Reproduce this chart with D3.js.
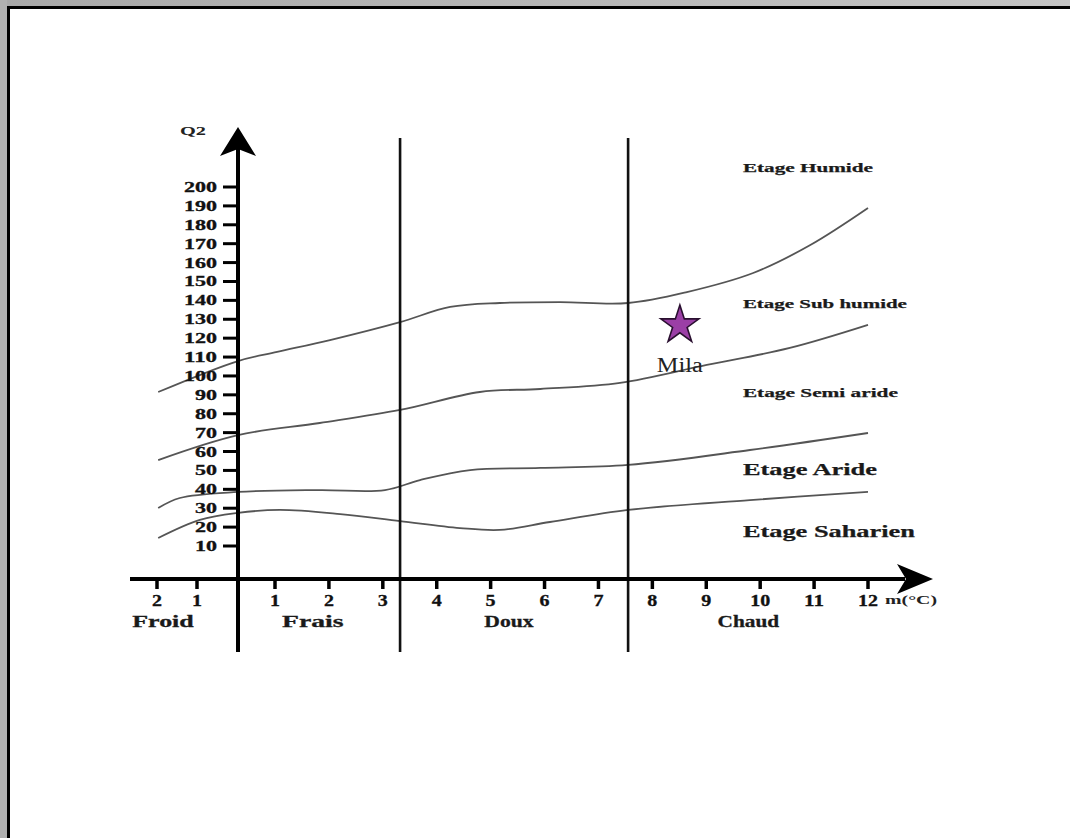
<!DOCTYPE html>
<html>
<head>
<meta charset="utf-8">
<script src="https://cdn.jsdelivr.net/npm/d3@7"></script>
<style>
  html, body { margin: 0; padding: 0; background: #fff; }
  svg { display: block; }
  text { font-family: "Liberation Serif", "Times New Roman", serif; }
</style>
</head>
<body>
<svg id="chart" width="1070" height="838"></svg>
<script>
// ---------- DATA ----------
const yTicks = [10,20,30,40,50,60,70,80,90,100,110,120,130,140,150,160,170,180,190,200];
const xTicks = [-2,-1,1,2,3,4,5,6,7,8,9,10,11,12];
const xTickLabels = ["2","1","1","2","3","4","5","6","7","8","9","10","11","12"];
const thermalZones = ["Froid","Frais","Doux","Chaud"];
const thermalZoneMid = [-1.85, 1.7, 5.34, 9.78];
const thermalBounds = [3.32, 7.55];
const stageNames = ["Etage Humide","Etage Sub humide","Etage Semi aride","Etage Aride","Etage Saharien"];
const stageQ = [208, 136, 88.9, 47.6, 14.8];
const stageM = 9.68;

const curveHumide_m = [-1.97, 0, 1.04, 2.02, 3.32, 4.25, 5.17, 6.29, 7.55, 8.64, 9.87, 10.93, 12];
const curveHumide_q = [91.5, 107.9, 112.7, 119, 128.5, 136.5, 138.6, 139.1, 138.6, 144.4, 154.5, 169.3, 188.9];
const curveSubHumide_m = [-1.97, 0, 1.83, 3.32, 4.8, 5.92, 7.4, 9.01, 10.55, 12];
const curveSubHumide_q = [55.5, 68.7, 75.1, 82, 91.5, 93.1, 96.3, 105.8, 114.8, 127];
const curveSemiAride_m = [-1.97, -1.43, 0, 1.83, 3.04, 3.69, 4.62, 5.92, 7.55, 9.81, 12];
const curveSemiAride_q = [30.1, 35.4, 38.6, 39.6, 39.6, 44.9, 50.2, 51.3, 52.9, 60.8, 69.8];
const curveAride_m = [-1.97, -0.93, 0, 1.09, 2.21, 3.32, 4.43, 5.17, 6.1, 7.55, 9.81, 12];
const curveAride_q = [14.2, 23.8, 27.5, 29.1, 26.9, 23.2, 19.5, 18.5, 22.7, 29.1, 34.3, 38.6];

const stationName = "Mila";
const stationM = 8.51;
const stationQ = 128.5;
const yAxisTitle = "Q2";
const xAxisTitle = "m(°C)";

// ---------- SCALES ----------
const x = d3.scaleLinear().domain([-2, -1, 0, 1, 12]).range([157, 197, 238, 275, 868]);
const y = d3.scaleLinear().domain([10, 200]).range([546, 187]);
const axisY = 579;

const svg = d3.select("#chart");

// ---------- FRAME ----------
const grad = svg.append("defs").append("linearGradient").attr("id","gtop").attr("x1",0).attr("x2",1);
grad.append("stop").attr("offset","0%").attr("stop-color","#a8a8a8");
grad.append("stop").attr("offset","100%").attr("stop-color","#c4c4c4");
svg.append("rect").attr("x",0).attr("y",0).attr("width",1070).attr("height",7).attr("fill","url(#gtop)");
svg.append("rect").attr("x",0).attr("y",0).attr("width",7).attr("height",838).attr("fill","#b0b0b0");
svg.append("rect").attr("x",7).attr("y",6).attr("width",1063).attr("height",3).attr("fill","#000");
svg.append("rect").attr("x",7).attr("y",6).attr("width",3).attr("height",832).attr("fill","#000");

// ---------- CURVES ----------
const line = d3.line().x(d => x(d[0])).y(d => y(d[1])).curve(d3.curveCatmullRom.alpha(0.5));
const curves = [
  [curveHumide_m, curveHumide_q],
  [curveSubHumide_m, curveSubHumide_q],
  [curveSemiAride_m, curveSemiAride_q],
  [curveAride_m, curveAride_q]
];
curves.forEach(([ms, qs]) => {
  svg.append("path")
    .attr("d", line(ms.map((m, i) => [m, qs[i]])))
    .attr("fill", "none").attr("stroke", "#555").attr("stroke-width", 1.8);
});

// ---------- THERMAL BOUNDARIES ----------
thermalBounds.forEach(b => {
  svg.append("line").attr("x1", x(b)).attr("x2", x(b)).attr("y1", 138).attr("y2", 652)
    .attr("stroke", "#111").attr("stroke-width", 2.6);
});

// ---------- Y AXIS ----------
svg.append("line").attr("x1", x(0)).attr("x2", x(0)).attr("y1", 652).attr("y2", 148)
  .attr("stroke", "#000").attr("stroke-width", 4);
svg.append("path")
  .attr("d", `M${x(0)},127 L${x(0)-18},156 L${x(0)},149 L${x(0)+18},156 Z`)
  .attr("fill", "#000");
yTicks.forEach(t => {
  svg.append("line").attr("x1", x(0) - 15).attr("x2", x(0)).attr("y1", y(t)).attr("y2", y(t))
    .attr("stroke", "#000").attr("stroke-width", 3);
  const s = String(t);
  svg.append("text").attr("x", 217).attr("y", y(t) + 5)
    .attr("text-anchor", "end").attr("font-size", 14).attr("font-weight", "bold")
    .attr("textLength", s.length * 11).attr("lengthAdjust", "spacingAndGlyphs")
    .attr("fill", "#111").attr("stroke", "#111").attr("stroke-width", 0.3).text(s);
});
svg.append("text").attr("x", 180).attr("y", 135).attr("font-size", 12).attr("font-weight", "bold")
  .attr("textLength", 26).attr("lengthAdjust", "spacingAndGlyphs").attr("fill", "#222").text(yAxisTitle);

// ---------- X AXIS ----------
svg.append("line").attr("x1", 130).attr("x2", 905).attr("y1", axisY).attr("y2", axisY)
  .attr("stroke", "#000").attr("stroke-width", 4);
svg.append("path")
  .attr("d", `M933,${axisY} L897,${axisY-15} L906,${axisY} L897,${axisY+15} Z`)
  .attr("fill", "#000");
xTicks.forEach((t, i) => {
  svg.append("line").attr("x1", x(t)).attr("x2", x(t)).attr("y1", axisY).attr("y2", axisY + 10)
    .attr("stroke", "#000").attr("stroke-width", 3.5);
  const s = xTickLabels[i];
  svg.append("text").attr("x", x(t)).attr("y", 606)
    .attr("text-anchor", "middle").attr("font-size", 16).attr("font-weight", "bold")
    .attr("textLength", s.length * 10).attr("lengthAdjust", "spacingAndGlyphs")
    .attr("fill", "#111").attr("stroke", "#111").attr("stroke-width", 0.3).text(s);
});
svg.append("text").attr("x", 885).attr("y", 604).attr("font-size", 12).attr("font-weight", "bold")
  .attr("textLength", 52).attr("lengthAdjust", "spacingAndGlyphs").attr("fill", "#222").text(xAxisTitle);

thermalZones.forEach((z, i) => {
  svg.append("text").attr("x", x(thermalZoneMid[i])).attr("y", 627)
    .attr("text-anchor", "middle").attr("font-size", 17).attr("font-weight", "bold")
    .attr("textLength", z.length * 12.3).attr("lengthAdjust", "spacingAndGlyphs")
    .attr("fill", "#1a1a1a").attr("stroke", "#1a1a1a").attr("stroke-width", 0.3).text(z);
});

// ---------- STAGE LABELS ----------
const stageWidths = [130, 164, 155, 134, 172];
const stageSizes = [13, 13, 13, 17, 17];
stageNames.forEach((s, i) => {
  svg.append("text").attr("x", x(stageM)).attr("y", y(stageQ[i]))
    .attr("font-size", stageSizes[i]).attr("font-weight", "bold")
    .attr("textLength", stageWidths[i]).attr("lengthAdjust", "spacingAndGlyphs")
    .attr("fill", "#1a1a1a").attr("stroke", "#1a1a1a").attr("stroke-width", 0.25).text(s);
});

// ---------- STATION ----------
const star = d3.symbol().type(d3.symbolStar).size(450);
svg.append("path").attr("d", star())
  .attr("transform", `translate(${x(stationM)},${y(stationQ) + 3})`)
  .attr("fill", "#9b3fa6").attr("stroke", "#2a1030").attr("stroke-width", 1.6);
svg.append("text").attr("x", x(stationM)).attr("y", y(stationQ) + 50)
  .attr("text-anchor", "middle").attr("font-size", 20)
  .attr("textLength", 46).attr("lengthAdjust", "spacingAndGlyphs")
  .attr("fill", "#222").text(stationName);
</script>
</body>
</html>
